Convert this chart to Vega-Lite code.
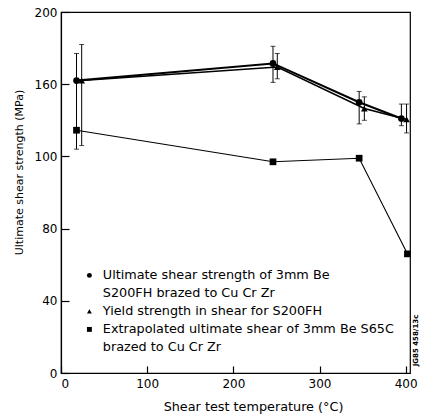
{
  "$schema": "https://vega.github.io/schema/vega-lite/v6.json",
  "width": 349,
  "height": 361,
  "autosize": {"type": "none"},
  "padding": {"left": 61, "top": 12, "right": 11, "bottom": 43},
  "background": "white",
  "config": {
    "view": {"stroke": "black", "strokeWidth": 1.2},
    "font": "DejaVu Sans",
    "axis": {
      "grid": false,
      "domainColor": "black",
      "domainWidth": 1.2,
      "tickColor": "black",
      "tickWidth": 1.2,
      "labelColor": "black",
      "titleColor": "black",
      "labelFont": "DejaVu Sans",
      "titleFont": "DejaVu Sans",
      "labelFontSize": 12,
      "titleFontWeight": "normal"
    },
    "legend": {
      "labelFont": "DejaVu Sans",
      "labelColor": "black",
      "labelFontSize": 12.8
    }
  },
  "data": {
    "values": [
      {"series": "S200FH ultimate", "temp": 18, "shear": 162, "lo": 124, "hi": 177},
      {"series": "S200FH ultimate", "temp": 246, "shear": 171.5, "lo": 161, "hi": 181},
      {"series": "S200FH ultimate", "temp": 346, "shear": 150, "lo": 138, "hi": 156},
      {"series": "S200FH ultimate", "temp": 395, "shear": 141, "lo": 137, "hi": 149},
      {"series": "S200FH yield", "temp": 24, "shear": 162, "lo": 126, "hi": 182},
      {"series": "S200FH yield", "temp": 251, "shear": 169.5, "lo": 163, "hi": 177},
      {"series": "S200FH yield", "temp": 352, "shear": 146.5, "lo": 140, "hi": 153},
      {"series": "S200FH yield", "temp": 401, "shear": 140.5, "lo": 133, "hi": 149},
      {"series": "S65C extrapolated", "temp": 18, "shear": 134.5},
      {"series": "S65C extrapolated", "temp": 246, "shear": 117},
      {"series": "S65C extrapolated", "temp": 346, "shear": 119},
      {"series": "S65C extrapolated", "temp": 402, "shear": 66}
    ]
  },
  "encoding": {
    "x": {
      "field": "temp",
      "type": "quantitative",
      "scale": {"domain": [0, 405], "nice": false, "zero": false},
      "axis": {
        "values": [0, 100, 200, 300, 400],
        "tickSize": -7,
        "labelPadding": 12,
        "labelBaseline": "top",
        "title": "Shear test temperature (°C)",
        "titleFontSize": 12.8,
        "titleX": 192,
        "titleY": 33,
        "titleAlign": "center",
        "titleBaseline": "middle",
        "titleAnchor": null
      }
    }
  },
  "layer": [
    {
      "transform": [{"filter": "isValid(datum.lo)"}],
      "mark": {"type": "errorbar", "ticks": {"size": 5, "thickness": 1}, "thickness": 1, "color": "black"},
      "encoding": {
        "y": {"field": "lo", "type": "quantitative", "axis": null, "scale": {"domain": [0, 200], "nice": false}},
        "y2": {"field": "hi"},
        "detail": {"field": "series"}
      }
    },
    {
      "mark": {"type": "line", "color": "black"},
      "encoding": {
        "y": {
          "field": "shear",
          "type": "quantitative",
          "scale": {"domain": [0, 200], "nice": false},
          "axis": {
            "orient": "right",
            "labels": false,
            "ticks": false,
            "domain": false,
            "title": "JG85 458/13c",
            "titleFontSize": 7,
            "titleFontWeight": "bold",
            "titleAngle": 270,
            "titleX": 5,
            "titleY": 328,
            "titleAlign": "center",
            "titleBaseline": "middle"
          }
        },
        "detail": {"field": "series"},
        "strokeWidth": {
          "field": "series",
          "type": "nominal",
          "scale": {"domain": ["S200FH ultimate", "S200FH yield", "S65C extrapolated"], "range": [2, 1.1, 1.1]},
          "legend": null
        }
      }
    },
    {
      "mark": {"type": "point", "filled": true, "color": "black", "opacity": 1, "size": 45},
      "encoding": {
        "y": {
          "field": "shear",
          "type": "quantitative",
          "scale": {"domain": [0, 200], "nice": false},
          "axis": {
            "values": [0, 40, 80, 120, 160, 200],
            "labelExpr": "datum.value == 120 ? '100' : datum.label",
            "tickSize": -8,
            "labelPadding": 12,
            "title": "Ultimate shear strength (MPa)",
            "titleFontSize": 11,
            "titleX": -42,
            "titleY": 160,
            "titleAngle": 270,
            "titleAlign": "center",
            "titleBaseline": "middle",
            "titleAnchor": null
          }
        },
        "shape": {
          "field": "series",
          "type": "nominal",
          "scale": {
            "domain": ["S200FH ultimate", "S200FH ultimate (cont.)", "S200FH yield", "S65C extrapolated", "S65C extrapolated (cont.)"],
            "range": ["circle", "M0,0", "triangle-up", "square", "M0,0"]
          },
          "legend": {
            "orient": "none",
            "legendX": 22,
            "legendY": 257,
            "title": null,
            "padding": 0,
            "symbolSize": 24,
            "symbolFillColor": "black",
            "symbolStrokeColor": "black",
            "symbolStrokeWidth": 0,
            "labelOffset": 7,
            "rowPadding": 4,
            "labelLimit": 400,
            "labelExpr": "datum.value == 'S200FH ultimate' ? 'Ultimate shear strength of 3mm Be' : datum.value == 'S200FH ultimate (cont.)' ? 'S200FH brazed to Cu Cr Zr' : datum.value == 'S200FH yield' ? 'Yield strength in shear for S200FH' : datum.value == 'S65C extrapolated' ? 'Extrapolated ultimate shear of 3mm Be S65C' : 'brazed to Cu Cr Zr'"
          }
        }
      }
    }
  ],
  "resolve": {"axis": {"y": "independent"}}
}
